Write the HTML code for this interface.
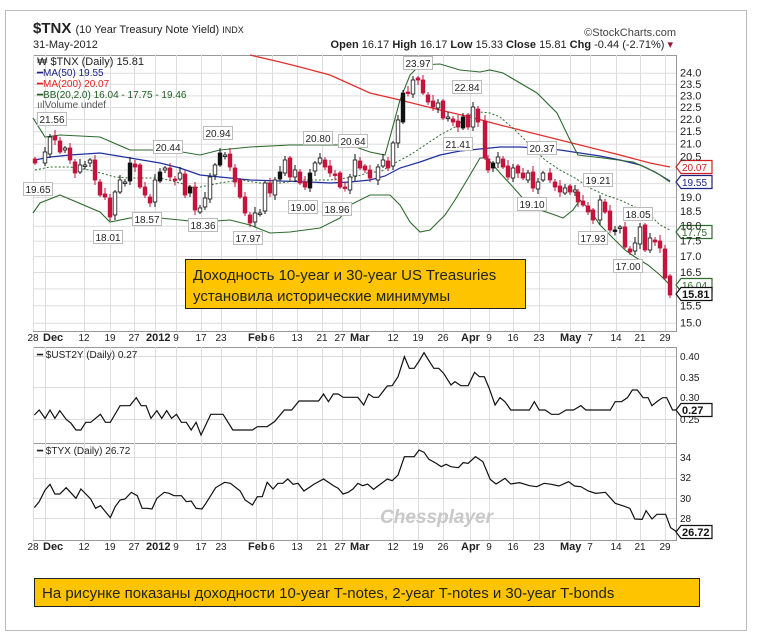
<!DOCTYPE html>
<html><head><meta charset="utf-8">
<style>
body{margin:0;background:#fff;width:760px;height:637px;overflow:hidden;font-family:"Liberation Sans",sans-serif}
svg text{font-family:"Liberation Sans",sans-serif}
</style></head>
<body>
<svg id="s" width="760" height="637" viewBox="0 0 760 637" xmlns="http://www.w3.org/2000/svg">
<rect x="5.5" y="10.5" width="741" height="620" fill="#fff" stroke="#bbb"/>
<g id="grid"></g>
<g id="series"></g>
<text x="33" y="33" font-size="15" font-weight="bold" fill="#222">$TNX <tspan font-size="11" font-weight="normal">(10 Year Treasury Note Yield) </tspan><tspan font-size="9" font-weight="normal">INDX</tspan></text>
<text x="33" y="48" font-size="11" fill="#222">31-May-2012</text>
<text x="676" y="36" font-size="11" fill="#444" text-anchor="end">©StockCharts.com</text>
<text x="673" y="48" font-size="11" fill="#222" text-anchor="end"><tspan font-weight="bold">Open</tspan> 16.17  <tspan font-weight="bold">High</tspan> 16.17  <tspan font-weight="bold">Low</tspan> 15.33  <tspan font-weight="bold">Close</tspan> 15.81  <tspan font-weight="bold">Chg</tspan> -0.44 (-2.71%) <tspan fill="#a01030">▾</tspan></text>
<g font-size="10">
<text x="37" y="65" fill="#222" font-size="11">₩ $TNX (Daily) 15.81</text>
<text x="37" y="76" fill="#1a237e">━MA(50) 19.55</text>
<text x="37" y="87" fill="#e02020">━MA(200) 20.07</text>
<text x="37" y="98" fill="#1b5e20">━BB(20,2.0) 16.04 - 17.75 - 19.46</text>
<text x="37" y="108" fill="#555">ıılVolume undef</text>
<text x="37" y="358" fill="#222">━ $UST2Y (Daily) 0.27</text>
<text x="37" y="454" fill="#222">━ $TYX (Daily) 26.72</text>
</g>
<g id="ann" font-size="10" fill="#222"></g>
<g id="axis" font-size="10" fill="#222"></g>
<rect x="185.5" y="259.5" width="340" height="49" fill="#ffc400" stroke="#222"/>
<text x="193" y="280" font-size="15" font-family="Liberation Sans Narrow, Liberation Sans, sans-serif" fill="#222">Доходность 10-year и 30-year US Treasuries</text>
<text x="193" y="301" font-size="15" font-family="Liberation Sans Narrow, Liberation Sans, sans-serif" fill="#222">установила исторические минимумы</text>
<rect x="34.5" y="578.5" width="665" height="28" fill="#ffc400" stroke="#222"/>
<text x="42" y="598" font-size="15" font-family="Liberation Sans Narrow, Liberation Sans, sans-serif" fill="#222">На рисунке показаны доходности 10-year T-notes, 2-year T-notes и 30-year T-bonds</text>
<text x="380" y="523" font-size="19" font-weight="bold" font-style="italic" fill="#c8c8c8" font-family="Liberation Sans Narrow, Liberation Sans, sans-serif">Chessplayer</text>
</svg>
<script>
(function(){
var NS="http://www.w3.org/2000/svg";
function el(p,t,a,txt){var e=document.createElementNS(NS,t);for(var k in a)e.setAttribute(k,a[k]);if(txt!==undefined)e.textContent=txt;document.getElementById(p).appendChild(e);return e;}
var L=33,R=676;
var vx=[33,45,84,110,134,155,176,201,221,256,272,297,322,342,360,393,418,443,470,489,513,539,570,590,616,640,665];
var ylog=function(v){return 72.7+531.9*Math.log(24/v);};
var pl=[24,23.5,23,22.5,22,21.5,21,20.5,20,19.5,19,18.5,18,17.5,17,16.5,16,15.5,15];
function panel(y1,y2,hs){
  el("grid","rect",{x:L+.5,y:y1+.5,width:R-L,height:y2-y1,fill:"#fff",stroke:"#999"});
  vx.forEach(function(x){el("grid","line",{x1:x+.5,x2:x+.5,y1:y1,y2:y2,stroke:"#ddd"});});
  hs.forEach(function(y){el("grid","line",{x1:L,x2:R,y1:y+.5,y2:y+.5,stroke:"#ddd"});});
}
panel(55,331,pl.map(ylog));
panel(347,443,[356,387,419]);
panel(443,540,[457,478,498,518]);
pl.forEach(function(v){if(v==20||v==19.5||v==16)return;el("axis","text",{x:680,y:ylog(v)+4,"font-size":11},v.toFixed(1));});
[[0.40,360],[0.35,381],[0.30,401],[0.25,423]].forEach(function(a){el("axis","text",{x:680,y:a[1],"font-size":10},a[0].toFixed(2));});
[[34,461],[32,481],[30,502],[28,522]].forEach(function(a){el("axis","text",{x:680,y:a[1],"font-size":10},a[0]);});
var dl=[["28",33,0],["Dec",43,1],["12",84,0],["19",110,0],["27",134,0],["2012",146,1],["9",176,0],["17",201,0],["23",221,0],["Feb",248,1],["6",272,0],["13",297,0],["21",322,0],["27",340,0],["Mar",350,1],["12",393,0],["19",418,0],["26",443,0],["Apr",461,1],["9",489,0],["16",513,0],["23",539,0],["May",560,1],["7",590,0],["14",616,0],["21",640,0],["29",665,0]];
[341,550].forEach(function(y){dl.forEach(function(d){el("axis","text",{x:d[1],y:y,"font-size":d[2]?11:10,"font-weight":d[2]?"bold":"normal","text-anchor":d[2]?"start":"middle"},d[0]);});});
function poly(pts,attrs){attrs.points=pts.map(function(p){return p[0]+","+p[1];}).join(" ");attrs.fill="none";el("series","polyline",attrs);}
poly([[250,55],[280,62],[300,67],[330,75],[370,93],[400,100],[440,110],[470,117],[500,125],[540,135],[580,145],[620,155],[650,163],[670,167]],{stroke:"#e03030","stroke-width":1.3});
poly([[35,160],[50,157],[70,155],[100,153],[130,158],[160,163],[180,168],[200,175],[220,177],[250,180],[280,181],[310,182],[330,183],[350,182],[370,180],[385,176],[400,168],[420,162],[440,155],[460,151],[480,149],[500,147],[520,147],[540,148],[560,150],[580,153],[600,156],[620,160],[640,165],[655,172],[670,181]],{stroke:"#2030a0","stroke-width":1.2});
poly([[33,118],[45,137],[60,135],[100,137],[130,150],[170,150],[200,155],[220,150],[250,147],[290,145],[330,145],[350,145],[370,152],[385,155],[390,137],[400,100],[410,75],[420,65],[440,64],[460,70],[480,72],[490,70],[503,73],[537,93],[557,113],[570,140],[578,155],[603,158],[633,162],[647,168],[660,175],[670,182]],{stroke:"#2e6b2e","stroke-width":1.1});
poly([[33,213],[40,203],[60,195],[100,212],[110,222],[130,218],[160,218],[200,222],[230,220],[250,225],[270,233],[290,232],[320,228],[340,218],[350,205],[370,195],[390,195],[400,205],[410,222],[420,232],[430,230],[445,215],[455,200],[470,175],[480,158],[487,158],[500,173],[513,187],[527,203],[540,210],[555,215],[563,218],[573,210],[580,200],[590,210],[600,225],[615,240],[625,250],[635,257],[648,265],[660,275],[670,285]],{stroke:"#2e6b2e","stroke-width":1.1});
poly([[35,170],[50,167],[70,167],[90,170],[115,177],[130,178],[160,178],[180,183],[195,188],[220,183],[240,180],[260,183],[280,183],[300,180],[330,180],[355,177],[370,172],[380,172],[395,163],[410,155],[425,145],[440,135],[455,127],[470,115],[480,112],[490,113],[500,117],[515,130],[530,145],[545,160],[560,170],[575,178],[590,188],[605,195],[620,200],[635,207],[650,215],[660,225],[670,230]],{stroke:"#2e6b2e","stroke-width":1,"stroke-dasharray":"2,2"});
var c=[[35,163],[45,152],[50,137],[55,140],[60,152],[65,148],[70,160],[75,173],[80,165],[85,165],[90,160],[95,180],[100,195],[105,197],[110,217],[115,192],[120,180],[125,182],[130,163],[135,167],[140,187],[145,195],[150,203],[155,180],[160,172],[165,168],[170,177],[175,180],[180,173],[185,195],[190,187],[195,210],[200,208],[205,198],[210,177],[215,165],[220,153],[225,155],[230,167],[235,182],[240,197],[245,213],[250,223],[255,213],[260,213],[265,183],[270,193],[275,180],[280,172],[285,160],[290,177],[295,170],[300,183],[305,187],[310,173],[315,163],[320,158],[325,167],[330,173],[335,175],[340,187],[345,188],[350,177],[355,160],[360,168],[365,170],[370,178],[378,167],[383,160],[388,168],[393,143],[398,120],[403,93],[408,93],[413,80],[418,80],[423,93],[428,102],[433,107],[438,103],[443,118],[448,117],[453,122],[458,127],[463,117],[468,127],[473,107],[478,122],[485,158],[488,170],[493,163],[498,157],[503,167],[508,177],[513,168],[518,173],[523,178],[528,173],[533,188],[538,182],[543,173],[550,180],[555,187],[560,192],[565,188],[570,192],[575,190],[578,202],[583,205],[588,212],[593,220],[600,200],[605,212],[610,230],[615,230],[620,227],[625,247],[630,252],[635,243],[640,227],[645,250],[650,238],[655,242],[660,248],[665,278],[670,295]];
for(var i=0;i<c.length;i++){var x=c[i][0],y=c[i][1],o=i?c[i-1][1]+((i*7)%5-2):y-4;var tp=Math.min(o,y),h=Math.max(Math.abs(o-y),1.5);var down=y>o;
 var wt=tp-2-(i*3)%5,wb=tp+h+2+(i*5)%4;
 el("series","line",{x1:x,x2:x,y1:wt,y2:wb,stroke:down?"#c0103a":"#111","stroke-width":1});
 el("series","rect",{x:x-1.8,y:tp,width:3.6,height:h,fill:down?"#c8143c":((i%6==0)?"#111":"#fff"),stroke:down?"#c0103a":"#111","stroke-width":0.8});}
function cv(a){return a.map(function(p){return [p[0]/2.04,320+p[1]/3];});}
poly(cv([[70,285],[80,270],[92,295],[102,270],[112,295],[122,272],[135,298],[145,310],[155,330],[165,330],[175,307],[185,307],[205,283],[215,307],[225,307],[245,257],[265,257],[278,233],[288,257],[298,257],[308,295],[320,272],[330,295],[340,272],[350,295],[360,283],[370,307],[380,307],[390,330],[400,307],[410,345],[430,283],[455,283],[475,330],[515,330],[525,320],[545,320],[560,305],[580,270],[595,270],[610,243],[650,243],[660,222],[670,245],[680,222],[690,222],[700,232],[730,232],[742,255],[752,222],[762,232],[772,232],[790,198],[800,197],[812,170],[825,110],[835,145],[845,145],[855,123],[865,98],[875,122],[885,145],[895,145],[905,160],[920,195],[928,185],[940,197],[955,197],[968,157],[978,170],[988,170],[998,205],[1010,255],[1020,233],[1030,245],[1042,270],[1080,270],[1090,245],[1100,270],[1112,270],[1125,283],[1140,283],[1155,270],[1170,270],[1185,257],[1195,270],[1245,270],[1255,245],[1268,245],[1280,233],[1290,210],[1300,210],[1312,233],[1322,233],[1330,257],[1340,245],[1352,233],[1360,233],[1372,270],[1380,270]]),{stroke:"#111","stroke-width":1.2});
poly(cv([[70,563],[80,545],[92,510],[102,493],[112,522],[122,522],[135,503],[155,535],[165,507],[185,537],[195,565],[205,557],[225,593],[235,560],[245,540],[255,537],[268,517],[280,527],[290,565],[300,565],[310,567],[320,535],[335,517],[345,520],[355,527],[370,527],[380,545],[390,543],[400,565],[412,567],[420,550],[440,503],[458,487],[470,490],[490,513],[500,540],[515,555],[525,530],[535,530],[545,487],[557,507],[567,490],[577,490],[587,477],[598,493],[608,490],[620,513],[640,493],[660,477],[680,497],[690,505],[700,522],[710,517],[720,507],[730,490],[740,497],[750,492],[762,508],[772,497],[790,477],[800,482],[812,465],[825,410],[845,410],[855,390],[865,397],[875,418],[890,430],[900,440],[910,433],[920,440],[935,443],[945,428],[955,430],[970,410],[985,425],[1000,478],[1012,492],[1030,475],[1042,492],[1060,488],[1080,497],[1095,500],[1110,490],[1125,493],[1140,498],[1160,485],[1172,498],[1185,500],[1200,513],[1215,520],[1235,517],[1255,550],[1270,557],[1285,565],[1295,597],[1310,598],[1318,572],[1330,597],[1340,583],[1358,583],[1368,623],[1380,635]]),{stroke:"#111","stroke-width":1.2});
[["21.56",52,119],["19.65",38,189],["20.44",168,147],["20.94",218,133],["18.57",147,219],["18.01",108,237],["18.36",203,225],["17.97",248,238],["20.80",318,138],["20.64",353,141],["19.00",303,207],["18.96",337,209],["23.97",418,63],["22.84",467,87],["21.41",458,144],["20.37",542,148],["19.10",532,204],["19.21",598,180],["17.93",593,238],["18.05",638,214],["17.00",628,266]].forEach(function(a){
 el("ann","rect",{x:a[1]-14.5,y:a[2]-6.5,width:29,height:13,fill:"#fff",stroke:"#bbb"});
 el("ann","text",{x:a[1],y:a[2]+4,"text-anchor":"middle"},a[0]);});
function tag(v,y,col,bold){
 el("ann","path",{d:"M676,"+y+" l5,-6.5 h31 v13 h-31 z",fill:"#fff",stroke:col,"stroke-width":1.2});
 el("ann","text",{x:682,y:y+4,fill:col,"font-size":bold?11:10,"font-weight":bold?"bold":"normal"},v);}
tag("20.07",167,"#d02020");tag("19.55",182,"#1a237e");tag("17.75",232,"#2e6b2e");tag("16.04",285,"#2e6b2e");tag("15.81",294,"#111",1);
tag("0.27",410,"#111",1);tag("26.72",532,"#111",1);
})();
</script>
</body></html>
